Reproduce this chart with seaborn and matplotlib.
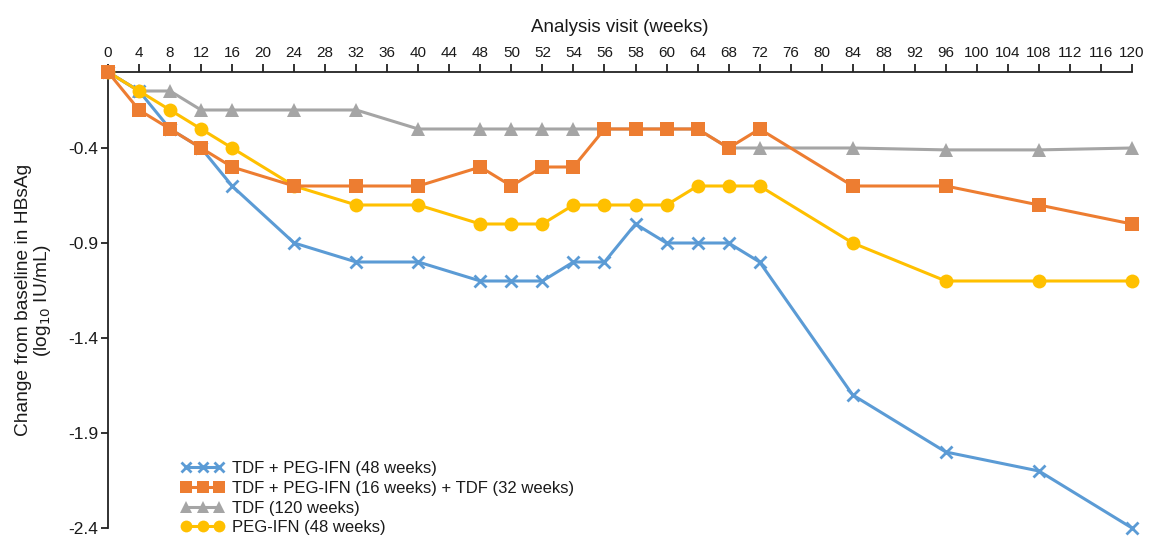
import matplotlib
matplotlib.use("Agg")
import matplotlib.pyplot as plt
import seaborn as sns
import pandas as pd

# Axis categories (equally spaced visit labels)
tick_weeks = [0, 4, 8, 12, 16, 20, 24, 28, 32, 36, 40, 44, 48, 50, 52, 54, 56, 58,
              60, 64, 68, 72, 76, 80, 84, 88, 92, 96, 100, 104, 108, 112, 116, 120]

# Visits with measurements
visits = [0, 4, 8, 12, 16, 24, 32, 40, 48, 50, 52, 54, 56, 58, 60, 64, 68, 72,
          84, 96, 108, 120]

tdf_peg48 = [0.0, -0.1, -0.3, -0.4, -0.6, -0.9, -1.0, -1.0, -1.1, -1.1, -1.1, -1.0,
             -1.0, -0.8, -0.9, -0.9, -0.9, -1.0, -1.7, -2.0, -2.1, -2.4]
tdf_peg16_tdf32 = [0.0, -0.2, -0.3, -0.4, -0.5, -0.6, -0.6, -0.6, -0.5, -0.6, -0.5, -0.5,
                   -0.3, -0.3, -0.3, -0.3, -0.4, -0.3, -0.6, -0.6, -0.7, -0.8]
tdf120 = [0.0, -0.1, -0.1, -0.2, -0.2, -0.2, -0.2, -0.3, -0.3, -0.3, -0.3, -0.3,
          -0.3, -0.3, -0.3, -0.3, -0.4, -0.4, -0.4, -0.41, -0.41, -0.4]
peg48 = [0.0, -0.1, -0.2, -0.3, -0.4, -0.6, -0.7, -0.7, -0.8, -0.8, -0.8, -0.7,
         -0.7, -0.7, -0.7, -0.6, -0.6, -0.6, -0.9, -1.1, -1.1, -1.1]

series_names = ["TDF + PEG-IFN (48 weeks)",
                "TDF + PEG-IFN (16 weeks) + TDF (32 weeks)",
                "TDF (120 weeks)",
                "PEG-IFN (48 weeks)"]
series_values = [tdf_peg48, tdf_peg16_tdf32, tdf120, peg48]

colors = ["#5B9BD5", "#ED7D31", "#A5A5A5", "#FFC000"]
markers = ["x", "s", "^", "o"]
msizes = [9, 10, 10, 10]
zorders = [3, 6, 2, 4]

frames = []
for name, vals in zip(series_names, series_values):
    frames.append(pd.DataFrame({
        "week": visits,
        "pos": [tick_weeks.index(w) for w in visits],
        "value": vals,
        "series": name,
    }))
df = pd.concat(frames, ignore_index=True)

sns.set_style("ticks")
plt.rcParams["font.family"] = ["Liberation Sans", "DejaVu Sans"]
text_color = "#1a1a1a"

fig = plt.figure(figsize=(11.53, 5.37), dpi=100)
ax = fig.add_axes([108 / 1153, 1 - 528 / 537, 1024 / 1153, 456 / 537])

for name, c, m, ms, z in zip(series_names, colors, markers, msizes, zorders):
    sub = df[df["series"] == name]
    sns.lineplot(data=sub, x="pos", y="value", ax=ax, color=c, marker=m,
                 markersize=ms, markeredgecolor=c, markeredgewidth=2 if m == "x" else 0,
                 linewidth=2.2, label=name, zorder=z, legend=False, clip_on=False)

ax.set_xlim(0, len(tick_weeks) - 1)
ax.set_ylim(-2.4, 0)

# x axis along the top
ax.xaxis.tick_top()
ax.xaxis.set_label_position("top")
ax.set_xticks(range(len(tick_weeks)))
ax.set_xticklabels([str(w) for w in tick_weeks])
ax.set_yticks([-0.4, -0.9, -1.4, -1.9, -2.4])
ax.set_yticklabels(["-0.4", "-0.9", "-1.4", "-1.9", "-2.4"])

for lab in ax.get_xticklabels():
    lab.set_fontsize(11)
    lab.set_color(text_color)
for lab in ax.get_yticklabels():
    lab.set_fontsize(12.5)
    lab.set_color(text_color)

ax.tick_params(axis="x", direction="out", length=6, width=1.3, pad=2.5, colors="#222222",
               labelcolor=text_color)
ax.tick_params(axis="y", direction="out", length=5, width=1.3, pad=2, colors="#222222",
               labelcolor=text_color)

for side in ["right", "bottom"]:
    ax.spines[side].set_visible(False)
for side in ["top", "left"]:
    ax.spines[side].set_linewidth(1.3)
    ax.spines[side].set_color("#222222")

ax.set_xlabel("Analysis visit (weeks)", fontsize=13.5, color=text_color, labelpad=10)
ax.set_ylabel("Change from baseline in HBsAg\n(log$_{10}$ IU/mL)", fontsize=13.8,
              color=text_color, labelpad=11, linespacing=1.0)
ax.yaxis.label.set_multialignment("center")

handles, labels = ax.get_legend_handles_labels()
leg = ax.legend(handles, labels, loc="lower left", bbox_to_anchor=(0.063, -0.034),
                frameon=False, numpoints=3, handlelength=2.6, handletextpad=0.45,
                labelspacing=0.28, borderpad=0, fontsize=12, markerscale=0.85)
for t in leg.get_texts():
    t.set_color(text_color)

fig.savefig("out.png", dpi=100)
